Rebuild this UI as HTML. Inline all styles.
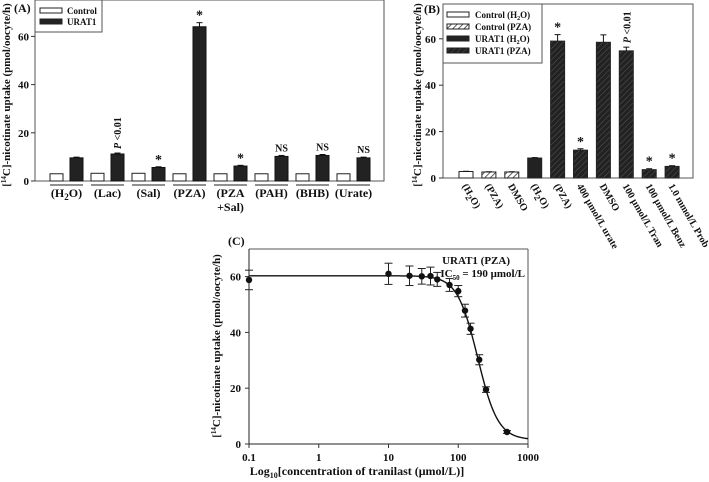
<!DOCTYPE html>
<html><head><meta charset="utf-8"><style>
html,body{margin:0;padding:0;background:#fff;width:709px;height:482px;overflow:hidden}
svg text{font-family:"Liberation Serif",serif;font-weight:bold;fill:#111}
</style></head><body>
<svg id="fig" width="709" height="482" viewBox="0 0 709 482" xmlns="http://www.w3.org/2000/svg">
<defs>
<pattern id="hatch" width="4" height="4" patternUnits="userSpaceOnUse" patternTransform="rotate(45)">
<rect width="4" height="4" fill="#fff"/><line x1="0" y1="0" x2="0" y2="4" stroke="#333" stroke-width="1.6"/></pattern>
<pattern id="hatchd" width="4" height="4" patternUnits="userSpaceOnUse" patternTransform="rotate(45)">
<rect width="4" height="4" fill="#222"/><line x1="0" y1="0" x2="0" y2="4" stroke="#555" stroke-width="1"/></pattern>
</defs>
<g id="pa"></g>
<g id="pb"></g>
<g id="pc"></g>
</svg>
<script>
// ---- Panel A data ----
const aCats = ["(H2O)","(Lac)","(Sal)","(PZA)","(PZA|+Sal)","(PAH)","(BHB)","(Urate)"];
const aControl = [3,3.2,3.2,3,3,3,3,3];
const aControlErr = [0.2,0.2,0.2,0.2,0.2,0.2,0.2,0.2];
const aUrat = [9.6,11.2,5.6,64,6.2,10.2,10.6,9.6];
const aUratErr = [0.3,0.4,0.3,1.7,0.3,0.4,0.4,0.3];
const aMarks = ["","P <0.01","*","*","*","NS","NS","NS"];
const aTicks = [0,20,40,60];
// ---- Panel B data ----
const bCats = ["(H2O)","(PZA)","DMSO","(H2O)","(PZA)","400 μmol/L urate","DMSO","100 μmol/L Tran","100 μmol/L Benz","1.0 mmol/L Prob"];
const bVals = [2.8,2.6,2.6,8.6,59,12,58.5,54.8,3.6,5];
const bErr = [0.1,0.1,0.1,0.2,2.8,0.6,3.2,1.6,0.4,0.3];
const bStyle = ["white","hatch","hatch","dark","hatchd","hatchd","hatchd","hatchd","hatchd","hatchd"];
const bMarks = ["","","","","*","*","","P <0.01","*","*"];
const bTicks = [0,20,40,60];
// ---- Panel C data ----
const cConc = [0.1,10,20,30,40,50,75,100,125,150,200,250,500];
const cVals = [58.8,61,60.3,60.1,60.2,59,57,54.8,47.8,41.3,30.2,19.5,4.3];
const cErr = [3.5,3.8,3.5,2.8,3.2,2.5,2.3,2,2.3,2,1.8,1,0.5];
const cFit = [60.3,1.5,190,2.98]; // top, bottom, IC50, hill
const cXTicks = [0.1,1,10,100,1000];
const cYTicks = [0,20,40,60];

const NS="http://www.w3.org/2000/svg";
function mk(parent,tag,attrs,text){const e=document.createElementNS(NS,tag);for(const k in attrs)e.setAttribute(k,attrs[k]);if(text!==undefined)e.textContent=text;parent.appendChild(e);return e;}
function sub(t,s){return t.replace("H2O","H<tspan font-size='9' dy='3'>2</tspan><tspan dy='-3'>O</tspan>");}

// ===== Panel A =====
const pa=document.getElementById('pa');
const aL=35,aR=384,aT=0,aB=181;
const ay=v=>aB-v*2.41;
const ax=i=>50+i*41;
let e=mk(pa,'rect',{x:aL,y:aT,width:aR-aL,height:aB-aT,fill:'none',stroke:'#555','stroke-width':1});

aTicks.forEach(t=>{mk(pa,'line',{x1:aL-4,x2:aL,y1:ay(t),y2:ay(t),stroke:'#333'});
 e=mk(pa,'text',{x:aL-6,y:ay(t)+4,'font-size':11,'text-anchor':'end'},t);
 });
aCats.forEach((c,i)=>{
 const x0=ax(i);
 e=mk(pa,'rect',{x:x0,y:ay(aControl[i]),width:13,height:aB-ay(aControl[i]),fill:'#fff',stroke:'#222','stroke-width':1});
 
 e=mk(pa,'rect',{x:x0+20,y:ay(aUrat[i]),width:13,height:aB-ay(aUrat[i]),fill:'#222',stroke:'#111','stroke-width':1});
 
 const ye=ay(aUrat[i]+aUratErr[i]);
 mk(pa,'line',{x1:x0+26.5,x2:x0+26.5,y1:ay(aUrat[i]),y2:ye,stroke:'#111'});
 mk(pa,'line',{x1:x0+23.5,x2:x0+29.5,y1:ye,y2:ye,stroke:'#111'});
 mk(pa,'line',{x1:x0,x2:x0+33,y1:185,y2:185,stroke:'#222'});
 const parts=c.split('|');
 parts.forEach((p,j)=>{e=mk(pa,'text',{x:x0+16.5,y:197+j*14,'font-size':12,'text-anchor':'middle'});e.innerHTML=sub(p);
  });
 const m=aMarks[i];
 if(m==='*'){e=mk(pa,'text',{x:x0+26.5,y:ye-3,'font-size':14,'text-anchor':'middle'},'*');}
 else if(m==='NS'){e=mk(pa,'text',{x:x0+26.5,y:ye-4,'font-size':10,'text-anchor':'middle'},'NS');}
 else if(m){e=mk(pa,'text',{x:0,y:0,'font-size':10,transform:`translate(${x0+30},${ye-4}) rotate(-90)`});e.innerHTML="<tspan font-style='italic'>P</tspan> &lt;0.01";}
});
e=mk(pa,'text',{x:0,y:0,'font-size':11,'text-anchor':'middle',transform:'translate(10,95) rotate(-90)'});
e.innerHTML="[<tspan font-size='7' dy='-4'>14</tspan><tspan dy='4'>C]-nicotinate uptake (pmol/oocyte/h)</tspan>";

e=mk(pa,'text',{x:14,y:12,'font-size':12,'font-family':'Liberation Sans'},'(A)');
// legend A
e=mk(pa,'g',{});
mk(e,'rect',{x:35,y:0,width:67,height:32,fill:'#fff',stroke:'#555'});
mk(e,'rect',{x:40,y:8,width:22,height:5,fill:'#fff',stroke:'#222'});
mk(e,'text',{x:67,y:14,'font-size':9},'Control');
mk(e,'rect',{x:40,y:19,width:22,height:5,fill:'#222',stroke:'#222'});
mk(e,'text',{x:67,y:25,'font-size':9},'URAT1');

// ===== Panel B =====
const pb=document.getElementById('pb');
const bL=443,bR=693,bT=4,bB=178;
const by=v=>bB-v*2.32;
const bx=i=>466+i*22.9;
e=mk(pb,'rect',{x:bL,y:bT,width:bR-bL,height:bB-bT,fill:'none',stroke:'#555'});

bTicks.forEach(t=>{mk(pb,'line',{x1:bL-4,x2:bL,y1:by(t),y2:by(t),stroke:'#333'});
 e=mk(pb,'text',{x:bL-7,y:by(t)+4,'font-size':11,'text-anchor':'end'},t);
 });
const fills={white:'#fff',hatch:'url(#hatch)',dark:'#222',hatchd:'url(#hatchd)'};
bCats.forEach((c,i)=>{
 const cx=bx(i);
 e=mk(pb,'rect',{x:cx-7,y:by(bVals[i]),width:14,height:bB-by(bVals[i]),fill:fills[bStyle[i]],stroke:'#222'});
 
 const ye=by(bVals[i]+bErr[i]);
 mk(pb,'line',{x1:cx,x2:cx,y1:by(bVals[i]),y2:ye,stroke:'#111'});
 mk(pb,'line',{x1:cx-3,x2:cx+3,y1:ye,y2:ye,stroke:'#111'});
 e=mk(pb,'text',{x:0,y:0,'font-size':10,transform:`translate(${cx-4},${bB+8}) rotate(60)`});e.innerHTML=sub(c);
 
 const m=bMarks[i];
 if(m==='*'){e=mk(pb,'text',{x:cx,y:ye-3,'font-size':14,'text-anchor':'middle'},'*');}
 else if(m){e=mk(pb,'text',{x:0,y:0,'font-size':10,transform:`translate(${cx+4},${ye-4}) rotate(-90)`});e.innerHTML="<tspan font-style='italic'>P</tspan> &lt;0.01";}
});
e=mk(pb,'text',{x:0,y:0,'font-size':11,'text-anchor':'middle',transform:'translate(421,95) rotate(-90)'});
e.innerHTML="[<tspan font-size='7' dy='-4'>14</tspan><tspan dy='4'>C]-nicotinate uptake (pmol/oocyte/h)</tspan>";

e=mk(pb,'text',{x:424,y:13,'font-size':12,'font-family':'Liberation Sans'},'(B)');
e=mk(pb,'g',{});
mk(e,'rect',{x:443,y:4,width:99,height:59,fill:'#fff',stroke:'#555'});
const lg=[['#fff','Control (H2O)'],['url(#hatch)','Control (PZA)'],['#222','URAT1 (H2O)'],['url(#hatchd)','URAT1 (PZA)']];
lg.forEach((l,j)=>{mk(e,'rect',{x:447,y:12+j*12,width:22,height:5,fill:l[0],stroke:'#222'});
 const t=mk(e,'text',{x:475,y:18+j*12,'font-size':9});t.innerHTML=l[1].replace('H2O',"H<tspan font-size='6' dy='2'>2</tspan><tspan dy='-2'>O</tspan>");});

// ===== Panel C =====
const pc=document.getElementById('pc');
const cL=249,cR=528,cT=249,cB=444;
const cx=v=>cL+(Math.log10(v)+1)/4*(cR-cL);
const cy=v=>cB-v*2.79;
mk(pc,'line',{x1:cL,x2:cR,y1:cT,y2:cT,stroke:'#555'});
mk(pc,'line',{x1:cR,x2:cR,y1:cT,y2:cB,stroke:'#555'});
mk(pc,'line',{x1:cL,x2:cL,y1:cT,y2:cB,stroke:'#222'});
mk(pc,'line',{x1:cL,x2:cR,y1:cB,y2:cB,stroke:'#222'});
cYTicks.forEach(t=>{mk(pc,'line',{x1:cL-4,x2:cL,y1:cy(t),y2:cy(t),stroke:'#333'});
 e=mk(pc,'text',{x:cL-8,y:cy(t)+4,'font-size':11,'text-anchor':'end'},t);
 });
cXTicks.forEach(t=>{mk(pc,'line',{x1:cx(t),x2:cx(t),y1:cB,y2:cB+4,stroke:'#333'});
 e=mk(pc,'text',{x:cx(t),y:cB+17,'font-size':11,'text-anchor':'middle'},t);
 });
let d='';
for(let k=0;k<=200;k++){const lv=-1+4*k/200,v=Math.pow(10,lv);const f=cFit[1]+(cFit[0]-cFit[1])/(1+Math.pow(v/cFit[2],cFit[3]));d+=(k?'L':'M')+cx(v).toFixed(1)+','+cy(f).toFixed(1);}
e=mk(pc,'path',{d:d,fill:'none',stroke:'#111','stroke-width':1.4});
cConc.forEach((c,i)=>{const x=cx(c),y=cy(cVals[i]),y1=cy(cVals[i]+cErr[i]),y2=cy(cVals[i]-cErr[i]);
 mk(pc,'line',{x1:x,x2:x,y1:y1,y2:y2,stroke:'#222'});
 mk(pc,'line',{x1:x-4,x2:x+4,y1:y1,y2:y1,stroke:'#222'});
 mk(pc,'line',{x1:x-4,x2:x+4,y1:y2,y2:y2,stroke:'#222'});
 e=mk(pc,'circle',{cx:x,cy:y,r:3.2,fill:'#111'});});
e=mk(pc,'text',{x:0,y:0,'font-size':11,'text-anchor':'middle',transform:'translate(220,346) rotate(-90)'});
e.innerHTML="[<tspan font-size='7' dy='-4'>14</tspan><tspan dy='4'>C]-nicotinate uptake (pmol/oocyte/h)</tspan>";

e=mk(pc,'text',{x:357,y:475,'font-size':12,'text-anchor':'middle'});
e.innerHTML="Log<tspan font-size='8' dy='3'>10</tspan><tspan dy='-3'>[concentration of tranilast (μmol/L)]</tspan>";

e=mk(pc,'text',{x:228,y:245,'font-size':12,'font-family':'Liberation Sans'},'(C)');
e=mk(pc,'text',{x:510,y:264,'font-size':11,'text-anchor':'end'},'URAT1 (PZA)');
e=mk(pc,'text',{x:525,y:277,'font-size':11,'text-anchor':'end'});e.innerHTML="IC<tspan font-size='7' dy='3'>50</tspan><tspan dy='-3'> = 190 μmol/L</tspan>";

</script>
</body></html>
